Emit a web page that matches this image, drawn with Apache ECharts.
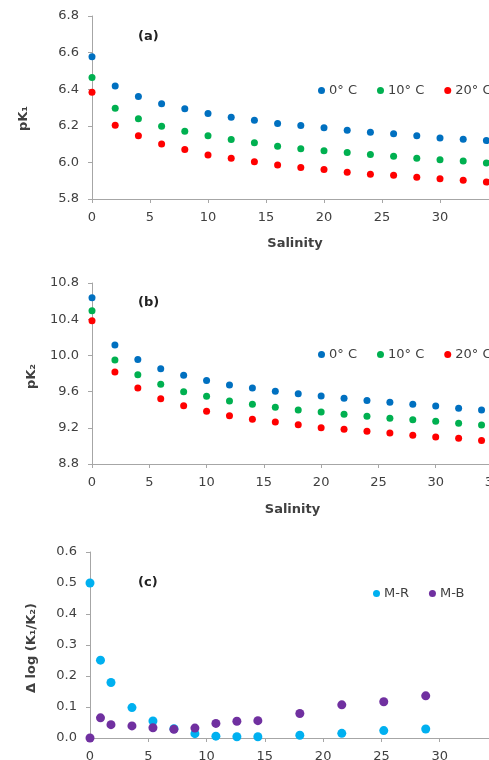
<!DOCTYPE html>
<html>
<head>
<meta charset="utf-8">
<script src="https://cdn.jsdelivr.net/npm/echarts@6/dist/echarts.min.js"></script>
<style>
  html, body { margin: 0; padding: 0; background: #fff; }
  #chart { width: 489px; height: 760px; }
</style>
</head>
<body>
<div id="chart"></div>
<script>
// salinity for panels (a) and (b)
const salinity = [0, 2, 4, 6, 8, 10, 12, 14, 16, 18, 20, 22, 24, 26, 28, 30, 32, 34];

// pK1 at 0, 10, 20 °C
const pK1_0 = [6.577, 6.417, 6.360, 6.320, 6.293, 6.267, 6.247, 6.231, 6.212, 6.201, 6.189, 6.176, 6.165, 6.156, 6.145, 6.134, 6.127, 6.119];
const pK1_10 = [6.464, 6.296, 6.238, 6.198, 6.170, 6.145, 6.125, 6.107, 6.088, 6.074, 6.063, 6.054, 6.043, 6.034, 6.023, 6.014, 6.008, 5.997];
const pK1_20 = [6.384, 6.203, 6.145, 6.101, 6.070, 6.041, 6.023, 6.003, 5.986, 5.972, 5.961, 5.946, 5.935, 5.930, 5.919, 5.911, 5.902, 5.893];

// pK2 at 0, 10, 20 °C
const pK2_0 = [10.638, 10.115, 9.956, 9.853, 9.780, 9.724, 9.673, 9.640, 9.603, 9.577, 9.551, 9.526, 9.503, 9.481, 9.459, 9.441, 9.415, 9.397];
const pK2_10 = [10.494, 9.949, 9.787, 9.680, 9.599, 9.548, 9.496, 9.459, 9.426, 9.397, 9.375, 9.349, 9.327, 9.305, 9.290, 9.271, 9.249, 9.231];
const pK2_20 = [10.384, 9.817, 9.640, 9.522, 9.445, 9.382, 9.334, 9.294, 9.264, 9.235, 9.201, 9.183, 9.161, 9.143, 9.117, 9.098, 9.084, 9.061];

// panel (c)
const salinityC = [0, 0.9, 1.8, 3.6, 5.4, 7.2, 9.0, 10.8, 12.6, 14.4, 18.0, 21.6, 25.2, 28.8];
const dMR = [0.500, 0.251, 0.179, 0.098, 0.055, 0.030, 0.014, 0.006, 0.004, 0.004, 0.009, 0.015, 0.024, 0.029];
const dMB = [0.000, 0.065, 0.043, 0.039, 0.033, 0.028, 0.032, 0.047, 0.054, 0.056, 0.079, 0.107, 0.117, 0.136];

const tempNames = ['0° C', '10° C', '20° C'];
const tempColors = ['#0070C0', '#00B050', '#FF0000'];

const font = 'DejaVu Sans';
const textColor = '#404040';
const axisColor = '#a6a6a6';

const pairs = (xs, ys) => xs.map((x, i) => [x, ys[i]]);

function xAxis(gridIndex, name, nameGap) {
  return {
    type: 'value', gridIndex, min: 0, max: 35, interval: 5,
    name, nameLocation: 'middle', nameGap,
    nameTextStyle: { fontFamily: font, fontSize: 13, fontWeight: 'bold', color: textColor },
    axisLine: { show: true, lineStyle: { color: axisColor } },
    axisTick: { show: true, length: 4, lineStyle: { color: axisColor } },
    axisLabel: { fontFamily: font, fontSize: 13, color: textColor, margin: 12 },
    splitLine: { show: false }
  };
}

function yAxis(gridIndex, name, min, max, interval, digits, nameGap, shift) {
  return {
    type: 'value', gridIndex, min, max, interval,
    name, nameLocation: 'middle', nameGap, nameRotate: 90,
    nameTextStyle: { fontFamily: font, fontSize: 13, fontWeight: 'bold', color: textColor, padding: [0, shift, 0, 0] },
    axisLine: { show: true, lineStyle: { color: axisColor } },
    axisTick: { show: true, length: 4, lineStyle: { color: axisColor } },
    axisLabel: { fontFamily: font, fontSize: 13, color: textColor, margin: 13, formatter: v => v.toFixed(digits) },
    splitLine: { show: false }
  };
}

function scatter(name, color, xi, data, size) {
  return {
    type: 'scatter', name, xAxisIndex: xi, yAxisIndex: xi, data,
    symbolSize: size, clip: false,
    itemStyle: { color, opacity: 1 }
  };
}

function legend(top, left, names) {
  return {
    top, left, width: 400, data: names, orient: 'horizontal',
    icon: 'circle', itemWidth: 7, itemHeight: 7, itemGap: 20,
    textStyle: { fontFamily: font, fontSize: 13, color: textColor, padding: [0, 0, 0, -1] }
  };
}

const chart = echarts.init(document.getElementById('chart'));
chart.setOption({
  backgroundColor: '#fff',
  animation: false,
  grid: [
    { left: 92, top: 16, width: 406, height: 183, outerBoundsMode: 'none' },
    { left: 92, top: 283, width: 401, height: 181, outerBoundsMode: 'none' },
    { left: 90, top: 552, width: 408, height: 186, outerBoundsMode: 'none' }
  ],
  xAxis: [xAxis(0, 'Salinity', 38), xAxis(1, 'Salinity', 39), xAxis(2, '', 30)],
  yAxis: [
    yAxis(0, 'pK₁', 5.8, 6.8, 0.2, 1, 62, 22),
    yAxis(1, 'pK₂', 8.8, 10.8, 0.4, 1, 54, 6),
    yAxis(2, 'Δ log (K₁/K₂)', 0, 0.6, 0.1, 1, 52, 6)
  ],
  legend: [
    legend(79, 313, tempNames),
    legend(343, 313, tempNames),
    legend(582, 368, ['M-R', 'M-B'])
  ],
  title: [
    { text: '(a)', left: 133, top: 25, textStyle: { fontFamily: font, fontSize: 13, fontWeight: 'bold', color: '#222' } },
    { text: '(b)', left: 133, top: 291, textStyle: { fontFamily: font, fontSize: 13, fontWeight: 'bold', color: '#222' } },
    { text: '(c)', left: 133, top: 571, textStyle: { fontFamily: font, fontSize: 13, fontWeight: 'bold', color: '#222' } }
  ],
  series: [
    scatter(tempNames[0], tempColors[0], 0, pairs(salinity, pK1_0), 7),
    scatter(tempNames[1], tempColors[1], 0, pairs(salinity, pK1_10), 7),
    scatter(tempNames[2], tempColors[2], 0, pairs(salinity, pK1_20), 7),
    scatter(tempNames[0], tempColors[0], 1, pairs(salinity, pK2_0), 7),
    scatter(tempNames[1], tempColors[1], 1, pairs(salinity, pK2_10), 7),
    scatter(tempNames[2], tempColors[2], 1, pairs(salinity, pK2_20), 7),
    scatter('M-R', '#00B0F0', 2, pairs(salinityC, dMR), 9),
    scatter('M-B', '#7030A0', 2, pairs(salinityC, dMB), 9)
  ]
});
</script>
</body>
</html>
